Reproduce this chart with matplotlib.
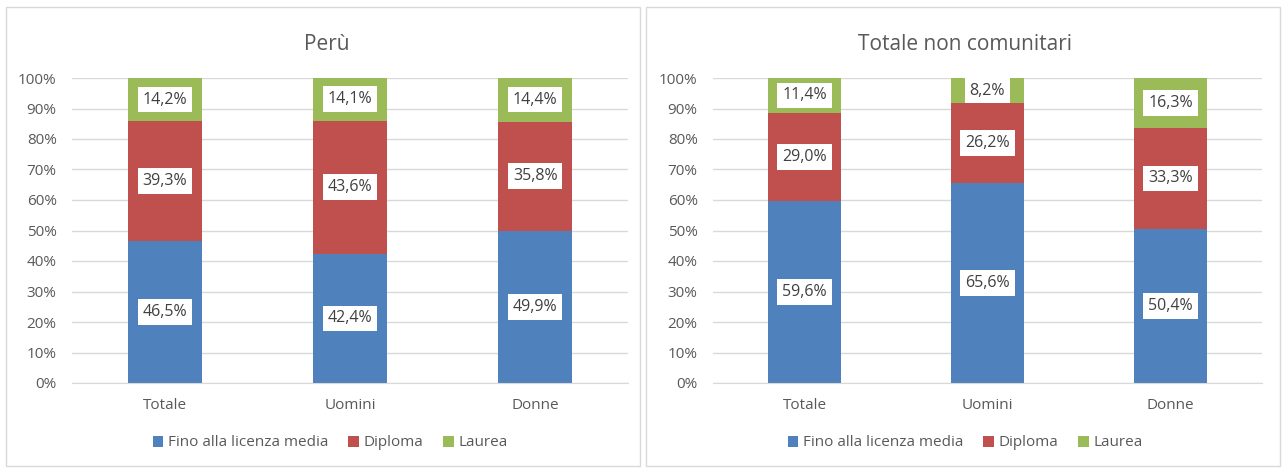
import numpy as np
import matplotlib.pyplot as plt
from matplotlib.patches import Rectangle

plt.rcParams['font.family'] = ['Open Sans', 'DejaVu Sans']

categories = ["Totale", "Uomini", "Donne"]
series = ["Fino alla licenza media", "Diploma", "Laurea"]
colors = ["#4F81BD", "#C0504D", "#9BBB59"]

peru = {
    "Fino alla licenza media": [46.5, 42.4, 49.9],
    "Diploma": [39.3, 43.6, 35.8],
    "Laurea": [14.2, 14.1, 14.4],
}
non_ue = {
    "Fino alla licenza media": [59.6, 65.6, 50.4],
    "Diploma": [29.0, 26.2, 33.3],
    "Laurea": [11.4, 8.2, 16.3],
}

W, H = 1283, 468
fig = plt.figure(figsize=(W / 100, H / 100), dpi=100)
grey = "#595959"


def px_axes(x0, x1, y0, y1):
    return fig.add_axes([x0 / W, 1 - y1 / H, (x1 - x0) / W, (y1 - y0) / H])


def draw_panel(ax, data, title, title_x, legend_x):
    x = np.arange(len(categories))
    bottom = np.zeros(len(categories))
    for name, col in zip(series, colors):
        vals = np.array(data[name])
        ax.bar(x, vals, 0.4, bottom=bottom, color=col, label=name, zorder=2)
        for xi, b, v in zip(x, bottom, vals):
            ax.text(xi, b + v / 2, f"{v:.1f}%".replace(".", ","),
                    ha="center", va="center", fontsize=11.5, color="#404040",
                    zorder=3,
                    bbox=dict(boxstyle="square,pad=0.3", fc="white", ec="none"))
        bottom += vals
    ax.set_xlim(-0.5, 2.5)
    ax.set_ylim(0, 100)
    ax.set_yticks(np.arange(0, 101, 10))
    ax.set_yticklabels([f"{t}%" for t in range(0, 101, 10)])
    ax.set_xticks(x)
    ax.set_xticklabels(categories)
    ax.tick_params(length=0, colors=grey, labelsize=11)
    ax.tick_params(axis="x", pad=11)
    ax.tick_params(axis="y", pad=11)
    ax.grid(axis="y", color="#D9D9D9", lw=1, zorder=0)
    for s in ["top", "left", "right"]:
        ax.spines[s].set_visible(False)
    ax.spines["bottom"].set_color("#D9D9D9")
    fig.text(title_x / W, 1 - 45 / H, title, ha="center", va="center",
             fontsize=15, color=grey)
    handles, labels = ax.get_legend_handles_labels()
    leg = fig.legend(handles, labels, loc="center", ncol=3, frameon=False,
                     bbox_to_anchor=(legend_x / W, 1 - 443 / H), fontsize=11,
                     handlelength=0.7, handleheight=0.7, handletextpad=0.3,
                     columnspacing=1.3)
    for t in leg.get_texts():
        t.set_color(grey)


# panel borders
for x0, x1 in [(6, 640), (646, 1280)]:
    fig.patches.append(Rectangle((x0 / W, 1 - 466 / H), (x1 - x0) / W,
                                 (466 - 7) / H, transform=fig.transFigure,
                                 fill=False, ec="#D9D9D9", lw=1))

ax1 = px_axes(72, 628, 78, 383)
draw_panel(ax1, peru, "Perù", 327, 330)
ax2 = px_axes(713, 1262, 78, 383)
draw_panel(ax2, non_ue, "Totale non comunitari", 965, 965)

fig.savefig("out.png", dpi=100)
